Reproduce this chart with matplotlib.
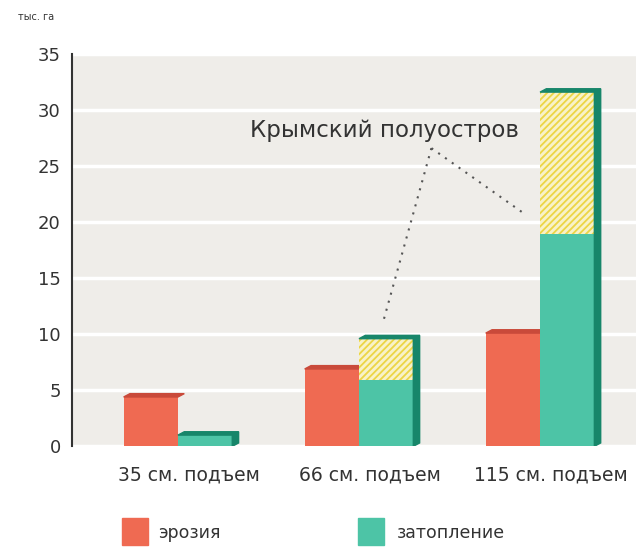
import matplotlib.pyplot as plt
from matplotlib.patches import Rectangle, Polygon

categories = ["35 см. подъем", "66 см. подъем", "115 см. подъем"]
erosion = [4.4, 6.9, 10.1]
flood = [1.0, 5.9, 18.9]
flood_crimea = [0.0, 3.7, 12.7]   # hatched part on top of flooding
yticks = [0, 5, 10, 15, 20, 25, 30, 35]

red, red_dark = "#ef6a52", "#c94a3a"
green, green_dark = "#4dc4a6", "#17866a"
plt.rcParams['hatch.linewidth'] = 1.3

fig = plt.figure(figsize=(6.36, 5.51), dpi=100)
ax = fig.add_axes([0.113, 0.19, 0.887, 0.712])
ax.set_facecolor("#efede9")

w = 0.3
dx, dy = 0.035, 0.3
xs = range(len(categories))
for i in xs:
    xe = i - w
    xf = i
    # erosion bar
    ax.bar(xe, erosion[i], width=w, align='edge', color=red, zorder=3)
    ax.add_patch(Polygon([(xe, erosion[i]), (xe + dx, erosion[i] + dy),
                          (xe + w + dx, erosion[i] + dy), (xe + w, erosion[i])],
                         color=red_dark, zorder=3))
    # flooding bar
    top = flood[i] + flood_crimea[i]
    ax.bar(xf, flood[i], width=w, align='edge', color=green, zorder=4)
    if flood_crimea[i] > 0:
        ax.bar(xf, flood_crimea[i], bottom=flood[i], width=w, align='edge',
               color="#f8f2c8", edgecolor="#ecd545", hatch="/////", linewidth=0, zorder=4)
    ax.add_patch(Polygon([(xf + w, 0), (xf + w, top), (xf + w + dx, top + dy),
                          (xf + w + dx, dy)], color=green_dark, zorder=4))
    ax.add_patch(Polygon([(xf, top), (xf + dx, top + dy),
                          (xf + w + dx, top + dy), (xf + w, top)],
                         color=green_dark, zorder=4))

ax.set_xlim(-0.586, 2.53)
ax.set_ylim(0, 35)
ax.set_yticks(yticks)
ax.set_yticklabels([str(t) for t in yticks], fontsize=13, color="#333333")
ax.tick_params(axis='y', length=0, pad=8)
ax.tick_params(axis='x', length=0)
ax.set_xticks([])
ax.yaxis.grid(True, color="white", linewidth=2.5, zorder=0)
ax.set_axisbelow(True)
for s in ['top', 'right', 'bottom']:
    ax.spines[s].set_visible(False)
ax.spines['left'].set_color("#333333")
ax.spines['left'].set_linewidth(1.5)

for i, c in enumerate(categories):
    ax.text(i + 0.06, -2.6, c, ha='center', va='center', fontsize=13.5, color="#333333")

# annotation
ax.text(1.14, 28.2, "Крымский полуостров", ha='center', va='center', fontsize=16.5, color="#333333")
ax.plot([1.40, 1.135], [26.6, 11.2], linestyle=(0, (1, 3)), color="#555555", linewidth=1.5, zorder=5)
ax.plot([1.40, 1.90], [26.6, 20.9], linestyle=(0, (1, 3)), color="#555555", linewidth=1.5, zorder=5)

fig.text(0.028, 0.97, "тыс. га", fontsize=7, color="#333333", va='center')

# legend
fig.patches.append(Rectangle((122 / 636, 1 - 545 / 551), 26 / 636, 27 / 551,
                             transform=fig.transFigure, color=red))
fig.text(158 / 636, 1 - 533 / 551, "эрозия", fontsize=12.5, color="#333333", va='center')
fig.patches.append(Rectangle((358 / 636, 1 - 545 / 551), 26 / 636, 27 / 551,
                             transform=fig.transFigure, color=green))
fig.text(397 / 636, 1 - 533 / 551, "затопление", fontsize=12.5, color="#333333", va='center')

fig.savefig("out.png", dpi=100)
